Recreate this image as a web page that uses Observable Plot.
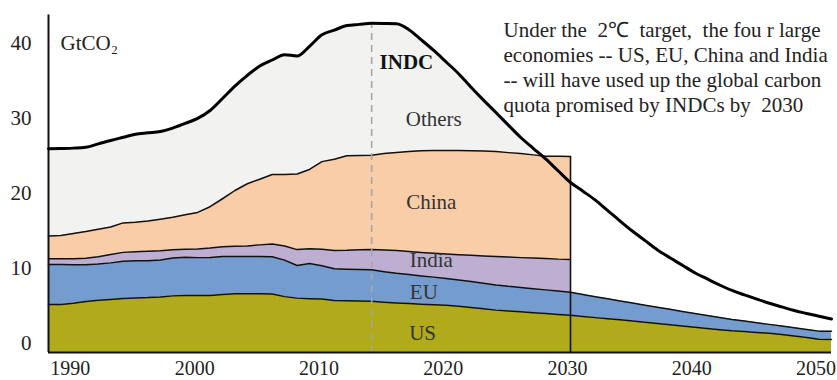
<!DOCTYPE html>
<html><head><meta charset="utf-8">
<script src="https://cdn.jsdelivr.net/npm/d3@7"></script>
<script src="https://cdn.jsdelivr.net/npm/@observablehq/plot@0.6"></script>
<style>
body{margin:0;background:#fff;}
svg text{white-space:pre;}
</style></head><body>
<script>
// ---- data (GtCO2) ----
const years = [1988,1989,1990,1991,1992,1993,1994,1995,1996,1997,1998,1999,2000,2001,2002,2003,2004,2005,2006,2007,2008,2009,2010,2011,2012,2013,2014,2015,2016,2017,2018,2019,2020,2021,2022,2023,2024,2025,2026,2027,2028,2029,2030,2031,2032,2033,2034,2035,2036,2037,2038,2039,2040,2041,2042,2043,2044,2045,2046,2047,2048,2049,2050,2051];
const us = [6.40,6.40,6.56,6.80,6.96,7.08,7.20,7.27,7.32,7.41,7.55,7.60,7.60,7.60,7.73,7.83,7.83,7.83,7.79,7.45,7.25,7.17,7.12,6.93,6.90,6.87,6.83,6.71,6.61,6.52,6.44,6.37,6.29,6.16,5.99,5.83,5.65,5.53,5.43,5.31,5.20,5.08,4.96,4.80,4.65,4.51,4.36,4.20,4.03,3.87,3.71,3.53,3.37,3.20,3.04,2.89,2.79,2.68,2.56,2.41,2.20,1.99,1.76,1.73];
const eu = [5.33,5.32,5.13,4.91,4.84,4.87,4.96,4.95,4.92,4.92,5.05,5.09,5.05,5.08,5.07,4.97,4.97,4.97,4.97,4.87,4.35,4.70,4.44,4.23,4.21,4.20,4.19,4.07,3.95,3.87,3.77,3.68,3.59,3.52,3.47,3.41,3.36,3.29,3.25,3.20,3.15,3.12,3.08,2.93,2.79,2.65,2.52,2.39,2.28,2.17,2.05,1.95,1.84,1.73,1.63,1.52,1.40,1.29,1.19,1.11,1.09,1.09,1.09,1.11];
const india = [0.76,0.77,0.80,0.85,0.97,1.11,1.19,1.21,1.27,1.25,1.11,1.07,1.16,1.24,1.29,1.36,1.41,1.55,1.72,1.87,2.12,1.95,2.20,2.44,2.52,2.63,2.72,2.89,3.04,3.08,3.13,3.19,3.25,3.36,3.51,3.63,3.79,3.91,3.97,4.08,4.19,4.25,4.36];
const china = [3.03,3.11,3.37,3.57,3.67,3.68,3.93,3.95,4.01,4.19,4.31,4.60,4.87,5.52,6.41,7.44,8.29,8.76,9.25,9.53,10.08,10.59,11.69,12.17,12.60,12.57,12.55,12.85,13.07,13.32,13.56,13.69,13.80,13.89,13.93,13.99,13.99,13.92,13.87,13.76,13.64,13.71,13.73];
const total = [27.16,27.20,27.25,27.36,27.81,28.27,28.69,29.11,29.29,29.47,29.92,30.55,31.21,32.27,33.87,35.52,36.96,38.20,39.00,39.71,39.53,40.83,42.36,42.99,43.59,43.75,43.89,43.87,43.83,43.04,41.68,40.27,38.73,37.17,35.37,33.65,32.00,30.32,28.67,27.23,25.81,24.23,22.67,21.51,20.31,18.91,17.51,16.16,14.92,13.68,12.63,11.63,10.64,9.81,9.00,8.27,7.68,7.11,6.57,6.08,5.59,5.21,4.84,4.47];
const seriesNames = ["US","EU","India","China"];
const baseYear = 2014;
const quotaYear = 2030;
const yTicks = [0,10,20,30,40];
const xTicks = [1990,2000,2010,2020,2030,2040,2050];
const unitLabel = "GtCO₂";
const totalLabel = "INDC";
const othersLabel = "Others";
const note = [
  "Under the  2℃  target,  the fou r large",
  "economies -- US, EU, China and India",
  "-- will have used up the global carbon",
  "quota promised by INDCs by  2030"
];

// ---- tables built from the arrays ----
const seriesValues = [us, eu, india, china];
const stackRows = [];
seriesNames.forEach((name, k) => {
  seriesValues[k].forEach((v, i) => stackRows.push({year: years[i], series: name, value: v}));
});
const totalRows = total.map((v, i) => ({year: years[i], value: v}));
const othersRows = totalRows.filter(d => d.year <= quotaYear);
const qi = years.indexOf(quotaYear);
const quotaTop = seriesValues.reduce((s, arr) => s + arr[qi], 0);
const baseTop = total[years.indexOf(baseYear)];

const colors = ["#b1aa1b", "#759cce", "#bdaed2", "#f8cda7"];
const serif = "Liberation Serif, Times New Roman, serif";

const chart = Plot.plot({
  width: 837,
  height: 380,
  marginLeft: 48,
  marginRight: 6,
  marginTop: 14.5,
  marginBottom: 28,
  style: {fontFamily: serif, fontSize: "21px", color: "#222", background: "#fff"},
  x: {domain: [1988, 2051]},
  y: {domain: [0, 45]},
  color: {domain: seriesNames, range: colors},
  marks: [
    Plot.areaY(othersRows, {x: "year", y: "value", fill: "#f2f2f1"}),
    Plot.areaY(stackRows, {x: "year", y: "value", z: "series", fill: "series"}),
    Plot.lineY(stackRows, Plot.stackY2({x: "year", y: "value", z: "series", stroke: "#111", strokeWidth: 1.5})),
    Plot.ruleX([{year: quotaYear, top: quotaTop}], {x: "year", y1: 0, y2: "top", stroke: "#111", strokeWidth: 1.6}),
    Plot.ruleX([{year: baseYear, top: baseTop}], {x: "year", y1: 0, y2: "top", stroke: "#a6a6a6", strokeWidth: 1.6, strokeDasharray: "7,5"}),
    Plot.ruleY([0], {stroke: "#111", strokeWidth: 2}),
    Plot.ruleX([1988], {stroke: "#111", strokeWidth: 2}),
    Plot.line(totalRows, {x: "year", y: "value", stroke: "#000", strokeWidth: 3, curve: "monotone-x"}),
    Plot.axisY(yTicks, {tickSize: 0, tickPadding: 17, dy: -9, label: null, fontSize: 21}),
    Plot.axisX(xTicks, {tickSize: 0, tickPadding: 8, dx: -3, label: null, fontSize: 20, tickFormat: d => String(d)}),
    Plot.text([unitLabel], {frameAnchor: "top-left", textAnchor: "start", lineAnchor: "top", dx: 12, dy: 20.5, fontSize: 21, fill: "#222"}),
    Plot.text([totalLabel], {x: [2016.8], y: [38.7], fontWeight: "bold", fontSize: 21, fill: "#111"}),
    Plot.text([othersLabel], {x: [2019.0], y: [31.1], fontSize: 21, fill: "#333"}),
    Plot.text(seriesNames, {x: [2018.1, 2018.2, 2018.8, 2018.8], y: [2.55, 8.07, 12.3, 20.07], text: d => d, fontSize: 21, fill: "#333"}),
    Plot.text([note.join("\n")], {frameAnchor: "top-left", textAnchor: "start", lineAnchor: "top", dx: 455, dy: 4.5, lineHeight: 1.19, fontSize: 21, fill: "#222"})
  ]
});
document.body.appendChild(chart);
</script>
</body></html>
